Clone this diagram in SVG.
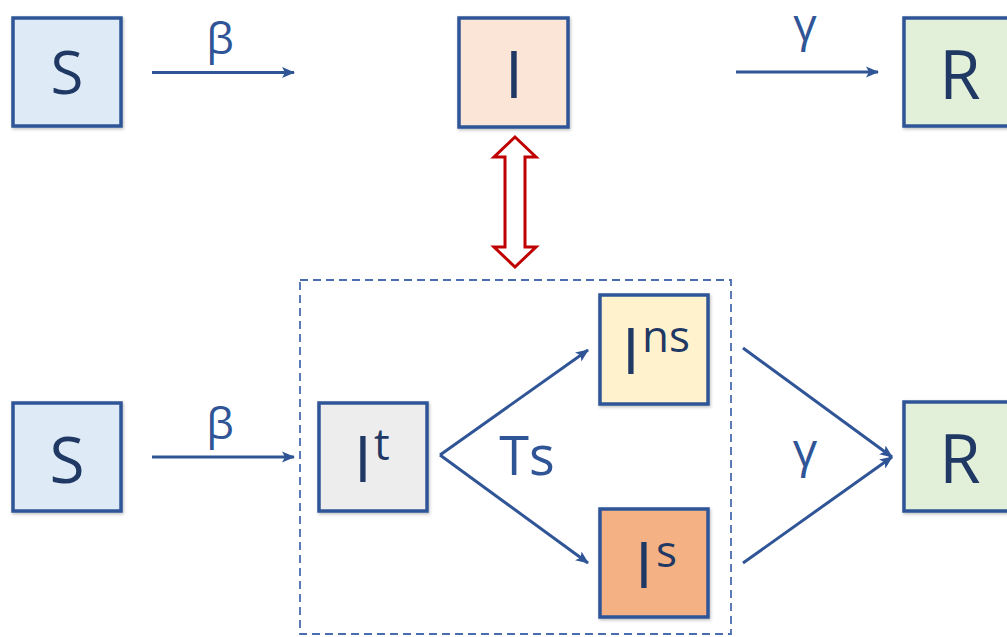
<svg xmlns="http://www.w3.org/2000/svg" width="1007" height="637" viewBox="0 0 1007 637">
<style>
  .box { stroke: #2F5597; stroke-width: 3.5; filter: url(#sh); }
  .lbl { font-family: "Open Sans", "Noto Sans", sans-serif; fill: #1F3864; }
  .greek { font-family: "Open Sans", "Noto Sans", sans-serif; fill: #2F5597; }
  .conn { stroke: #2F5597; stroke-width: 3; fill: none; marker-end: url(#ah); }
</style>
<defs>
  <filter id="sh" x="-10%" y="-10%" width="130%" height="130%">
    <feDropShadow dx="1" dy="1.5" stdDeviation="1.5" flood-color="#000" flood-opacity="0.25"/>
  </filter>
  <marker id="ah" markerUnits="userSpaceOnUse" markerWidth="14" markerHeight="12" refX="12" refY="6" orient="auto">
    <path d="M0,0.5 L13,6 L0,11.5 L3,6 Z" fill="#2F5597"/>
  </marker>
</defs>
<rect width="1007" height="637" fill="#fff"/>

<g id="S_top">
  <rect class="box" x="13" y="18" width="108" height="108" fill="#DEEBF7"/>
  <text class="lbl" x="67" y="94" font-size="60" text-anchor="middle">S</text>
</g>
<g id="I_top">
  <rect class="box" x="459" y="18" width="109" height="109" fill="#FBE5D6"/>
  <text class="lbl" x="514" y="98" font-size="66" text-anchor="middle">I</text>
</g>
<g id="R_top">
  <rect class="box" x="904" y="18" width="120" height="108" fill="#E2F0D9"/>
  <text class="lbl" x="960" y="99" font-size="67" text-anchor="middle">R</text>
</g>

<g id="S_bot">
  <rect class="box" x="13" y="403" width="108" height="108" fill="#DEEBF7"/>
  <text class="lbl" x="67" y="483" font-size="64" text-anchor="middle">S</text>
</g>
<g id="group_box">
  <rect x="300" y="280" width="431" height="354" fill="none" stroke="#4A6DB0" stroke-width="1.8" stroke-dasharray="8,5"/>
</g>
<g id="It">
  <rect class="box" x="319" y="403" width="108" height="108" fill="#EDEDED"/>
  <text class="lbl" x="363" y="482" font-size="64" text-anchor="middle">I</text>
  <text class="lbl" x="374" y="460" font-size="44">t</text>
</g>
<g id="Ins">
  <rect class="box" x="600" y="295" width="108" height="109" fill="#FFF2CC"/>
  <text class="lbl" x="631" y="374" font-size="64" text-anchor="middle">I</text>
  <text class="lbl" x="642" y="352" font-size="44">ns</text>
</g>
<g id="Is">
  <rect class="box" x="600" y="509" width="108" height="108" fill="#F4B183"/>
  <text class="lbl" x="644" y="588" font-size="64" text-anchor="middle">I</text>
  <text class="lbl" x="656" y="567" font-size="44">s</text>
</g>
<g id="R_bot">
  <rect class="box" x="904" y="402" width="120" height="109" fill="#E2F0D9"/>
  <text class="lbl" x="960" y="483" font-size="67" text-anchor="middle">R</text>
</g>

<g id="connectors">
  <line class="conn" x1="152" y1="72.5" x2="294" y2="72.5"/>
  <line class="conn" x1="736" y1="72" x2="878" y2="72"/>
  <line class="conn" x1="152" y1="457" x2="294" y2="457"/>
  <line class="conn" x1="440" y1="455" x2="588" y2="350"/>
  <line class="conn" x1="440" y1="455" x2="588" y2="563"/>
  <line class="conn" x1="743" y1="348" x2="892" y2="457"/>
  <line class="conn" x1="743" y1="563" x2="892" y2="457"/>
  <polygon points="515,137 536,157 525,157 525,247 536,247 515,267 494,247 505,247 505,157 494,157" fill="#fff" stroke="#C00000" stroke-width="3" stroke-linejoin="miter"/>
</g>

<g id="labels">
  <text class="greek" x="220" y="54" font-size="44" text-anchor="middle">β</text>
  <text class="greek" x="805" y="41" font-size="46" text-anchor="middle">γ</text>
  <text class="greek" x="220" y="439" font-size="44" text-anchor="middle">β</text>
  <text class="greek" x="805" y="467" font-size="48" text-anchor="middle">γ</text>
  <text class="greek" x="527" y="475" font-size="54" text-anchor="middle">Ts</text>
</g>
</svg>
